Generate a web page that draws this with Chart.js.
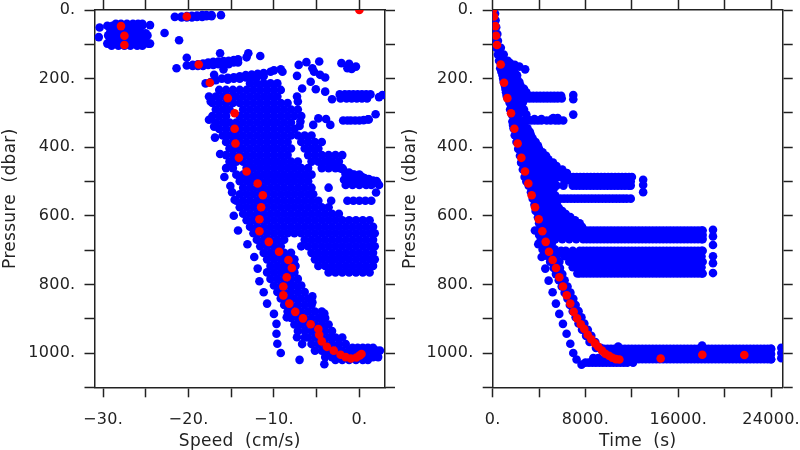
<!DOCTYPE html>
<html>
<head>
<meta charset="utf-8">
<script src="https://cdn.jsdelivr.net/npm/chart.js@4"></script>
<style>
  body { margin: 0; background: #fff; }
  canvas { position: absolute; top: 0; }
</style>
</head>
<body>
<canvas id="speedCanvas" width="400" height="450" style="left:0"></canvas>
<canvas id="timeCanvas" width="400" height="450" style="left:400px"></canvas>
<script>
// red profile: one float, same pressures in both panels
const redPressure = [0,19,47,75,102,159,212,257,301,346,389,431,471,506,540,575,610,645,676,705,729,752,779,806,832,856,880,899,916,930,947,966,982,993,1005,1012,1016,1013,1007,1003];
const redSpeed = [0,-20.2,-27.9,-27.5,-27.5,-18.8,-17.5,-15.4,-14.6,-14.6,-14.5,-14.1,-13.2,-11.9,-11.3,-11.5,-11.7,-11.7,-10.6,-9.4,-8.3,-7.9,-8.5,-8.9,-8.9,-8.2,-7.5,-6.6,-5.7,-4.8,-4.7,-4.4,-3.8,-3,-2.2,-1.6,-1,-0.35,0.05,0.25];
const redTimeP = [0,19,47,75,102,159,212,257,301,346,389,431,471,506,540,575,610,645,676,705,729,752,779,806,832,856,880,899,916,930,947,960,972,982,993,1002,1008,1014,1018,1019,1016,1005,1006];
const redTime = [30,112,230,285,370,690,975,1260,1580,1865,2150,2470,2785,3070,3360,3650,3965,4280,4570,4855,5170,5460,5745,6060,6380,6690,6980,7270,7590,7900,8190,8500,8820,9100,9420,9710,10030,10310,10630,10920,14480,18070,21690];

// blue speed rows: [pressure, speed, speed, ...]
const speedTop = [
  [40,-28.5,-27.9,-27.2,-26.5,-25.9,-25.4],
  [46,-29.5,-28.9,-28.2,-27.6,-27,-26.4,-25.8,-25.4],
  [51,-30.4],[44,-24.5],[52,-29.2,-28.5,-27.8,-27.1,-26.4,-25.7],
  [68,-29.2,-28.5,-27.8,-27.1,-26.4,-25.7,-25],
  [74,-29.4,-28.7,-28,-27.3,-26.6,-25.9,-25.2,-24.8],
  [79,-30.5,-29,-27.6,-26.2],
  [84,-29.2,-28.5,-27.8,-27.1,-26.4,-25.7,-25.1],
  [93,-29.2,-28.5,-27.8,-27.1,-26.4,-25.7,-25],
  [98,-29.5,-28.8,-28,-27.3,-26.6,-26,-25.3,-24.7,-24.5],
  [104,-29,-28.2,-27.5,-26.8,-26,-25.4],
  [67,-22.8],[88,-21.1],[20,-21.6],
  [19,-20.8],[18,-20.2],[17,-19.6],[16,-19],[15,-18.4,-17.9,-17.3,-16.2],
  [22,-20.8,-20.2,-19.6],[20,-19,-18.4],[18,-17.9,-17.3]
];
const speedShelves = [
  [170,-21.4],[139,-20.2],[162,-20.2],[160,-19.5],[158,-18.9],[156,-18.3],[153,-17.7],[151,-17.1],[150,-16.5],[149,-15.9],[148,-15.3],[146,-14.7],[144,-14.2],
  [163,-19.5,-18.9,-18.3],[160,-17.7,-17.1],[158,-16.5,-15.9,-15.3],[153,-14.7,-14.2],
  [126,-16.3,-13],[173,-15.9,-9.2],[138,-13.2],[134,-11.6],
  [214,-18],[210,-17.4],[205,-16.8],[189,-17],[200,-16.1],[198,-15.4],[196,-14.7],[193,-14],[190,-13.3],[188,-12.6],[186,-11.9],[184,-11.2],[180,-10.4,-9],[176,-10],
  [203,-15.4],[200,-14.7,-14],[197,-13.3,-12.6],[193,-11.9,-11.2],
  [160,-7.1],[152,-6.2],[150,-4.7],[170,-5.5,-1.4],[180,-5.3],[192,-7.3],[209,-5.7],[189,-4.6],[197,-4],[231,-5.1],[229,-6.7],[238,-4],[260,-3.2],[252,-7.3],[267,-7.2],
  [155,-2.1],[157,-1.2],[165,-0.4],[172,-0.9],
  [246,-2.3,-1.7,-1.2,-0.7,-0.2,0.3,0.8,1.3],
  [258,-2.2,-1.5,-0.9,-0.3,0.3,0.9],
  [254,2.3],[248,2.7],
  [322,-1.9,-1.4,-1,-0.5,0],[321,0.5],[319,1,1.1],[304,1.9],
  [316,-4.8],[318,-3.9],[335,-3.4,-5.4],[338,-7],[325,-6.9]
];
const speedBlob = [
  [214,-12.8,-12,-11.2,-10.4,-9.6],
  [233,-16.4,-15.6,-14.8,-14,-13.2,-12.4,-11.6,-10.8,-10,-9.2],
  [252,-17.6,-16.8,-16,-15.2,-14.4,-13.6,-12.8,-12,-11.2,-10.4,-9.6],
  [271,-17.2,-16.4,-15.6,-14.8,-14,-13.2,-12.4,-11.6,-10.8,-10,-9.2,-8.4],
  [290,-16.8,-16,-15.2,-13.6,-12.8,-12,-11.2,-10.4,-9.6,-8.8,-8,-7.2],
  [309,-17.2,-16.4,-15.6,-14,-13.2,-12.4,-11.6,-10.8,-10,-9.2,-8.4,-7.6,-6.8],
  [328,-16.8,-16,-15.2,-14.4,-13.6,-12.8,-12,-11.2,-10.4,-9.6,-8.8,-8],
  [347,-16.4,-15.6,-14.8,-14,-13.2,-12.4,-11.6,-10.8,-10,-9.2,-8.4,-7.6],
  [366,-16,-15.2,-14.4,-13.6,-12.8,-12,-11.2,-10.4,-9.6,-8.8,-8,-7.2,-6.4,-5.6],
  [385,-15.6,-14.8,-14,-13.2,-12.4,-11.6,-10.8,-10,-9.2,-8.4,-6.8,-6,-5.2,-4.4],
  [404,-15.2,-14.4,-13.6,-12.8,-12,-11.2,-10.4,-9.6,-8.8,-8,-6.4,-5.6,-4.8],
  [423,-15.6,-14.8,-14,-13.2,-12.4,-11.6,-10.8,-10,-9.2,-8.4,-6,-5.2,-4.4,-3.6,-2.8,-2],
  [442,-15.2,-14.4,-13.6,-12.8,-12,-11.2,-10.4,-9.6,-8.8,-8,-7.2,-5.6,-4.8,-4,-3.2,-2.4],
  [461,-15.6,-14.8,-13.2,-12.4,-11.6,-10.8,-10,-9.2,-8.4,-7.6,-6.8,-6,-4.4,-3.6,-2.8,-2],
  [480,-14.4,-13.6,-12.8,-12,-11.2,-10.4,-9.6,-8.8,-8,-7.2,-6.4,-5.6,-1.6,-0.8,0],
  [499,-14,-13.2,-12.4,-11.6,-10.8,-10,-9.2,-8.4,-7.6,-6.8,-6,-0.4,0.4,1.2,2],
  [518,-13.6,-12.8,-12,-11.2,-10.4,-9.6,-8.8,-8,-7.2,-6.4,-5.6,-3.6],
  [532,1.95],
  [537,-14,-13.2,-12.4,-11.6,-10.8,-10,-9.2,-8.4,-7.6,-6.8,-6,-5.4],
  [556,-14.4,-13.6,-12.8,-12,-11.2,-10.4,-9.6,-8.8,-8,-7.2,-6.4,-5.6,-4.8,-3.3,-1.4,-0.7,0,0.7,1.4],
  [575,-14,-13.2,-12.4,-11.6,-10.8,-10,-9.2,-8.4,-7.6,-6.8,-6,-5.2,-4.4,-3.6],
  [594,-13.6,-12.8,-12,-11.2,-10.4,-9.6,-8.8,-8,-7.2,-6.4,-5.6,-4.8,-4,-3.2,-2.4],
  [613,-13.2,-12.4,-11.6,-10.8,-10,-9.2,-8.4,-7.6,-6.8,-6,-5.2,-4.4,-3.6,-2.8,-2,-1.2,-0.4,0.4,1.2],
  [632,-12.8,-12,-11.2,-10.4,-9.6,-8.8,-8,-7.2,-6.4,-5.6,-4.8,-4,-3.2,-2.4,-1.6,-0.8,0,0.8,1.6],
  [651,-12.4,-11.6,-10.8,-10,-9.2,-8.4,-7.6,-6.8,-6,-5.2,-4.4,-3.6,-2.8,-2,-1.2,-0.4,0.4,1.2,1.8],
  [670,-12,-11.2,-10.4,-9.6,-8.8,-6.4,-5.6,-4.8,-4,-3.2,-2.4,-1.6,-0.8,0,0.8,1.6],
  [689,-11.6,-10.8,-10,-9.2,-6.8,-6,-5.2,-4.4,-3.6,-2.8,-2,-1.2,-0.4,0.4,1.2,1.8],
  [708,-11.2,-10.4,-9.6,-8.8,-8,-5.6,-4.8,-4,-3.2,-2.4,-1.6,-0.8,0,0.8,1.6],
  [727,-10.8,-10,-9.2,-8.4,-7.6,-5.2,-4.4,-3.6,-2.8,-2,-1.2,-0.4,0.4,1.2,1.8],
  [746,-10.4,-9.6,-8.8,-8,-7.5,-4.8,-4,-3.2,-2.4,-1.6,-0.8,0,0.8,1.6],
  [765,-10.8,-10,-9.2,-8.4,-7.6,-3.6,-2.8,-2,-1.2,-0.4,0.4,1.2]
];
// sloping band out to the right edge near 480 dbar
const speedBand = [
  [445,-3.4],[455,-3],[452,-2.5],[462,-2.2],[465,-1.9],[475,-1.6],[474,-1.2],[482,-0.9],[480,-0.6],[490,-0.3],[485,0.2],[495,0.1],
  [490,0.6],[498,0.6],[493,1.1],[501,1.1],[497,1.6],[505,1.6],[503,2.1],[510,2.3],
  [495,-1.8,-1,-0.2],[510,-1.6,-0.8,0,0.8,1.4]
];
const speedDeep = [
  [803,-10,-9.2,-8.4,-7.6,-6.8],
  [784,-10.4,-9.6,-8.8,-8,-7.2],
  [822,-9.6,-8.8,-8,-7.2,-6.4],
  [841,-9.2,-8.4,-7.6,-6.8,-6],
  [860,-8.8,-8,-7.2,-6.4,-5.6],
  [879,-8.4,-7.6,-6.8,-6,-5.2,-4.4],
  [898,-8,-7.2,-6.4,-5.6,-4.8,-4],
  [917,-7.6,-6.8,-6,-5.2,-4.4,-3.6],
  [936,-7.2,-6.4,-5.6,-4.8,-4,-3.2],
  [955,-6.4,-6,-5.2,-4.4,-3.6,-2.8,-2],
  [974,-5.6,-4.8,-4,-3.2,-2.4,-1.6],
  [985,-0.8,-0.2,0.4,1,1.6],
  [993,-5.2,-4.4,-3.6,-2.8,-2,-1.2,-0.4,0.4,1.2,2,2.4],
  [1012,-4,-3.2,-2.4,-1.6,-0.8,0,0.8,1.6,2.2],
  [1020,-2.8,-2,-1.2,-0.4,0.4,1],
  [835,-5.5],[852,-5.5],[896,-8.5],[954,-7.3],[974,-6.7],[1020,-7],[1033,-4.1],[885,-4.1],[898,-4.5],[746,-7.5],
  [643,-14.2],[683,-13.1],[720,-12.3],[754,-11.9],[791,-11.7],[823,-11.2],[856,-10.8],[886,-10],[915,-9.7],[944,-9.7],[973,-9.6],[1000,-9.2],
  [267,-17.4],[320,-17.6],[340,-17],[372,-16.9],[420,-16.3],[487,-15.8],[513,-15.1],[531,-14.9],[553,-14.6],[600,-14.7]
];

// blue time rows: [pressure, time, time, ...]
const bandTimesA = [7800,8400,9000,9600,10200,10800,11400,12000,12600,13200,13800,14400,15000,15600,16200,16800,17400,18000];
const bandTimesB = [8100,8700,9300,9900,10500,11100,11700,12300,12900,13500,14100,14700,15300,15900,16500,17100,17700,18100];
const bottomTimesA = [9600,10200,10800,11400,12000,12600,13200,13800,14400,15000,15600,16200,16800,17400,18000,18600,19200,19800,20400,21000,21600,22200,22800,23400,24000];
const bottomTimesB = [9900,10500,11100,11700,12300,12900,13500,14100,14700,15300,15900,16500,17100,17700,18300,18900,19500,20100,20700,21300,21900,22500,23100,23700,24000];
const timeShallow = [
  [0,30],[10,60,200],[30,100,250],[50,150,300],[70,200,400],[90,250,450],[110,300,500,700],[130,450,700,950],[148,550,950,1300],
  [155,1500],[160,1900],[165,2300],[173,2800],[170,650,1150,1650],[180,750,1100,1500,1850],[190,850,1400,1900,2100],[200,900,1250,1700,2100],[210,950,1500,2100,2300],[220,1050,1500,1900,2400],[230,1100,1700,2300,2700],[240,1150,1500,1950,2500,2900],
  [250,1200,1800,2300,2600,2900,3200,3500,3800,4100,4400,4700,5000,5300,5600,5900],[258,1300,1900,2600,2900,3200,3500,3800,4100,4400,4700,5000,5300,5600,5950],[248,6945],[260,6945],
  [270,1450,2000,2600],[280,1600,2300],[290,1500,2100,2700],[297,1800,2400],[305,1650,2250,2900,6945],
  [322,2000,2700,3000,3300,3600,3900,4200,4650,5000,5400,5700,6080],[318,3000,3600,4200,5100],[315,5220,5600],[325,1700,2300],
  [335,1750,2100,2700],[345,1800,2400,3000],[355,2100,2700,3200],[365,1900,2500,3100,3300],[375,2250,2850,3450],[385,2050,2650,3250,3700],
  [395,2350,2950,3550,3900],[405,2200,2800,3400,4000],[415,2500,3100,3700,4300],
  [425,2350,2950,3550,4150,4600],[435,2650,3250,3850,4450,4800],[445,2450,3050,3650,4250,4850,5200],[455,2750,3350,3950,4550,5150,5500],[465,2600,3200,3800,4400,5000,5600,6000],[475,2900,3500,4100,4700,5300,5900,6400]
];
const timeBands = [
  [487,2750,3350,3950,4550,5150,5750,6350,6650,6950,7250,7550,7850,8150,8450,8750,9050,9350,9650,9950,10250,10550,10850,11150,11450,11750,12000],
  [500,2900,3500,4100,4700,5300,6200,6800,7400,8000,8600,9200,9800,10400,11000,11600,11900],
  [512,3100,3700,4300,4900,5500,6100,6900,7200,7500,7800,8100,8400,8700,9000,9300,9600,9900,10200,10500,10800,11100,11400,11700,11900],
  [495,12970],[510,12970],[531,12970],
  [522,3450,4050,4650,5250],
  [531,3300,3900,4500,5100],
  [541,3600,4200,4800,5400],
  [550,3450,4050,4650,5250,5850,6150,6450,6750,7050,7350,7650,7950,8250,8550,8850,9150,9450,9750,10050,10350,10650,10950,11250,11550,11900],
  [559,3750,4350,4950,5550],
  [568,3600,4200,4800,5400],
  [577,3900,4500,5100,5700],
  [586,3700,4300,4900,5500,6000],
  [595,4050,4650,5250,5850,6300],
  [604,3900,4500,5100,5700,6300,6700],
  [613,4200,4800,5400,6000,6600,7100],
  [622,4000,4600,5200,5800,6400,7000,7500],
  [632,4300,4900,5500,6100,6700,7300,7700],
  [643,3950,4550,4900,5500,6100,6700,7300,...bandTimesA,...bandTimesB],
  [656,4000,4600,5200,5800,6400,7000,7600,...bandTimesB],
  [668,4150,4700,5400,6000,6600,7200,...bandTimesA,...bandTimesB],
  [702,5900,6300,6900,7500,...bandTimesB,...bandTimesA],
  [718,6200,6600,7200,...bandTimesA],
  [734,6600,6900,7500,...bandTimesB],
  [750,6900,7200,...bandTimesA],
  [768,7300,7500,...bandTimesB,...bandTimesA],
  [641,18990],[660,18990],[685,18990],[718,18990],[738,18990],[767,18990]
];
const timeDescent = [
  [680,4000,4500,5100],[698,4300,4750,5350],[716,4600,5000,5550],[734,4950,5250,5750],[752,5250,5800],[770,5450,6000],[788,5700,6200],
  [806,5950,6450],[824,6200,6700],[842,6450,6950],[860,6650,7150],[878,6900,7400],[896,7150,7650],[914,7400,7900],[932,7700,8200],
  [950,8050,8500],[968,8350,8850],[985,8900,9300],
  [643,3640],[683,3930],[720,4220],[754,4535],[789,4820],[823,5165],[856,5450],[886,5740],[915,6055],[944,6370],[973,6690],[1000,6945],[1019,7230],[1034,7660]
];
const timeBottom = [
  [988,...bottomTimesA,...bottomTimesB],
  [1003,...bottomTimesB],
  [1018,...bottomTimesA,...bottomTimesB],
  [1028,8000,8300,8600,8900,9200,9500,9800,10100,10400,10700,11000,11300,11600,12100],
  [1015,8670,9100],
  [981,10820],[978,18050],
  [985,24880],[1000,24880],[1015,24880]
];

const speedTicks = [-30,-25,-20,-15,-10,-5,0];
const timeTicks = [0,4000,8000,12000,16000,20000,24000];
const pressureTicks = [0,100,200,300,400,500,600,700,800,900,1000,1100];

function rowsToPoints(groups) {
  var pts = [];
  groups.forEach(function(rows) {
    rows.forEach(function(r) {
      for (var i = 1; i < r.length; i++) pts.push({ x: r[i], y: r[0] });
    });
  });
  return pts;
}

function zipPoints(xs, ys) {
  return xs.map(function(x, i) { return { x: x, y: ys[i] }; });
}

var ink = '#222';
var fontFace = '"DejaVu Sans", sans-serif';

function numLabel(v) {
  return (v < 0 ? '\u2212' + Math.abs(v) : v) + '.';
}

// one panel, chart area pinned with afterFit
function panel(id, opts) {
  var xLabel = function(v) { return opts.xLabelled.includes(v) ? numLabel(v) : ''; };
  var yLabel = function(v) { return (v % 200 === 0 && v <= 1000) ? numLabel(v) : ''; };
  var setX = function(scale) { scale.ticks = opts.xTicks.map(function(v) { return { value: v }; }); };
  var setY = function(scale) { scale.ticks = pressureTicks.map(function(v) { return { value: v }; }); };
  var line = { display: true, color: ink, width: 1.5 };
  var gridOpt = { drawOnChartArea: false, drawTicks: true, tickLength: 10, tickColor: ink, tickWidth: 1.5 };
  // stop label overhang from moving the chart area
  var noPad = function(s) { s.paddingLeft = s.paddingRight = s.paddingTop = s.paddingBottom = 0; };

  new Chart(document.getElementById(id), {
    type: 'scatter',
    data: {
      datasets: [
        { data: opts.red, backgroundColor: '#ff0000', pointRadius: 4.3, borderWidth: 0, pointBorderWidth: 0, clip: 0 },
        { data: opts.blue, backgroundColor: '#0000ff', pointRadius: 4.3, borderWidth: 0, pointBorderWidth: 0, clip: 0 }
      ]
    },
    options: {
      responsive: false,
      animation: false,
      plugins: {
        legend: { display: false },
        tooltip: { enabled: false }
      },
      layout: { padding: 0 },
      scales: {
        x: {
          type: 'linear', position: 'bottom', min: opts.xMin, max: opts.xMax,
          afterBuildTicks: setX,
          afterFit: function(s) { noPad(s); s.height = 450 - 387.3; },
          border: line, grid: gridOpt,
          ticks: { autoSkip: false, maxRotation: 0, callback: xLabel, color: ink, padding: 13, font: { family: fontFace, size: 16 } },
          title: { display: true, text: opts.xTitle, color: ink, padding: { top: 0, bottom: -2 }, font: { family: fontFace, size: 17 } }
        },
        xTop: {
          axis: 'x', type: 'linear', position: 'top', min: opts.xMin, max: opts.xMax,
          afterBuildTicks: setX,
          afterFit: function(s) { noPad(s); s.height = 10; },
          border: line, grid: gridOpt,
          ticks: { display: false }
        },
        y: {
          type: 'linear', position: 'left', reverse: true, min: 0, max: 1100,
          afterBuildTicks: setY,
          afterFit: function(s) { noPad(s); s.width = opts.areaLeft; },
          border: line, grid: gridOpt,
          ticks: { autoSkip: false, callback: yLabel, color: ink, padding: 9, font: { family: fontFace, size: 16 } },
          title: { display: true, text: 'Pressure  (dbar)', color: ink, padding: 0, font: { family: fontFace, size: 17 } }
        },
        yRight: {
          axis: 'y', type: 'linear', position: 'right', reverse: true, min: 0, max: 1100,
          afterBuildTicks: setY,
          afterFit: function(s) { noPad(s); s.width = 400 - opts.areaRight; },
          border: line, grid: gridOpt,
          ticks: { display: false }
        }
      }
    },
    plugins: [{
      id: 'spacing',
      beforeDraw: function(chart) { chart.ctx.letterSpacing = '0.3px'; }
    }]
  });
}

panel('speedCanvas', {
  xMin: -31, xMax: 3, xTicks: speedTicks, xLabelled: [-30, -20, -10, 0],
  xTitle: 'Speed  (cm/s)', areaLeft: 94.5, areaRight: 385,
  red: zipPoints(redSpeed, redPressure),
  blue: rowsToPoints([speedTop, speedShelves, speedBlob, speedBand, speedDeep])
});

panel('timeCanvas', {
  xMin: 0, xMax: 25000, xTicks: timeTicks, xLabelled: [0, 8000, 16000, 24000],
  xTitle: 'Time  (s)', areaLeft: 92.7, areaRight: 382.7,
  red: zipPoints(redTime, redTimeP),
  blue: rowsToPoints([timeShallow, timeBands, timeDescent, timeBottom])
});
</script>
</body>
</html>
